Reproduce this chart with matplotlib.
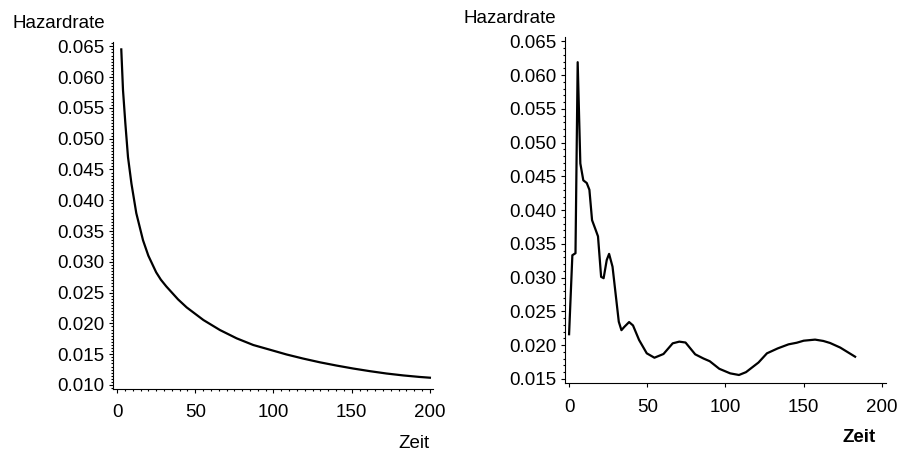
import matplotlib
matplotlib.use("Agg")
import matplotlib.pyplot as plt
from matplotlib.ticker import MultipleLocator, FormatStrFormatter

plt.rcParams["font.family"] = ["Liberation Sans", "DejaVu Sans"]

# Weibull-Modell (links)
zeit_modell = [2.7, 3.8, 5.3, 7.0, 9.2, 12.3, 16.6, 20.0, 25.0, 28.0, 31.5,
               39.0, 44.5, 55.2, 65.8, 76.5, 87.1, 97.8, 108.4, 119.1,
               129.7, 140.4, 151.0, 161.7, 172.3, 183.0, 193.6, 200.0]
hazard_modell = [0.0645, 0.0579, 0.0525, 0.0470, 0.0427, 0.0379, 0.0335,
                 0.0310, 0.0283, 0.0271, 0.0260, 0.0239, 0.0226, 0.02055,
                 0.01892, 0.01757, 0.01649, 0.01572, 0.01495, 0.01428,
                 0.01368, 0.01315, 0.01267, 0.01224, 0.01186, 0.01155,
                 0.01130, 0.01118]

# Kerngeschaetzte Hazardrate (rechts)
zeit_kern = [0.0, 2.1, 4.1, 5.5, 7.2, 9.1, 11.3, 13.0, 14.7, 17.1, 18.5,
             20.5, 22.1, 24.1, 25.6, 27.8, 31.8, 33.5, 35.4, 38.4, 40.9,
             44.8, 49.7, 54.6, 60.4, 66.3, 70.5, 74.5, 80.7, 86.0, 90.0,
             96.1, 103.1, 108.7, 113.2, 121.2, 126.6, 133.5, 140.4, 145.7,
             150.1, 157.4, 162.7, 167.0, 173.5, 183.0]
hazard_kern = [0.0216, 0.0333, 0.0336, 0.0619, 0.0469, 0.0444, 0.0440,
               0.0430, 0.0385, 0.0370, 0.0361, 0.0301, 0.0299, 0.0326,
               0.0335, 0.0316, 0.02345, 0.0222, 0.0227, 0.0234, 0.0229,
               0.02074, 0.01877, 0.01812, 0.01867, 0.02025, 0.0205,
               0.02037, 0.01862, 0.01800, 0.01760, 0.01648, 0.0158,
               0.01556, 0.01598, 0.01741, 0.01877, 0.0195, 0.0201,
               0.02034, 0.02064, 0.02080, 0.02060, 0.02030, 0.01962,
               0.01827]

fig = plt.figure(figsize=(9.01, 4.55), dpi=100)
ax1 = fig.add_axes([0.1254, 0.1451, 0.3552, 0.7626])
ax2 = fig.add_axes([0.6271, 0.1576, 0.3563, 0.7618])


def style_axis(ax):
    for side in ("top", "right"):
        ax.spines[side].set_visible(False)
    for side in ("left", "bottom"):
        ax.spines[side].set_linewidth(0.8)
    ax.tick_params(which="major", direction="out", length=3, width=0.8,
                   labelsize=13.5, pad=3)
    ax.tick_params(which="minor", direction="out", length=1.6, width=0.8)
    ax.tick_params(axis="x", which="major", pad=8)
    ax.yaxis.set_major_formatter(FormatStrFormatter("%.3f"))
    ax.xaxis.set_major_locator(MultipleLocator(50))


ax1.plot(zeit_modell, hazard_modell, color="black", linewidth=1.6)
ax1.set_xlim(-2.6, 202)
ax1.set_ylim(0.00935, 0.0657)
style_axis(ax1)
ax1.yaxis.set_major_locator(MultipleLocator(0.005))
ax1.yaxis.set_minor_locator(MultipleLocator(0.0005))
ax1.xaxis.set_minor_locator(MultipleLocator(5))

ax2.plot(zeit_kern, hazard_kern, color="black", linewidth=1.6)
ax2.set_xlim(-2.6, 202.8)
ax2.set_ylim(0.01433, 0.06568)
style_axis(ax2)
ax2.yaxis.set_major_locator(MultipleLocator(0.005))
ax2.yaxis.set_minor_locator(MultipleLocator(0.001))

fig.text(12 / 901, 1 - 23 / 455, "Hazardrate", fontsize=13.5,
         ha="left", va="center")
fig.text(463 / 901, 1 - 18.5 / 455, "Hazardrate", fontsize=13.5,
         ha="left", va="center")
fig.text(414 / 901, 1 - 443 / 455, "Zeit", fontsize=13.5,
         ha="center", va="center")
fig.text(859 / 901, 1 - 437.5 / 455, "Zeit", fontsize=13.5,
         fontweight="bold", ha="center", va="center")

fig.savefig("out.png", dpi=100)
